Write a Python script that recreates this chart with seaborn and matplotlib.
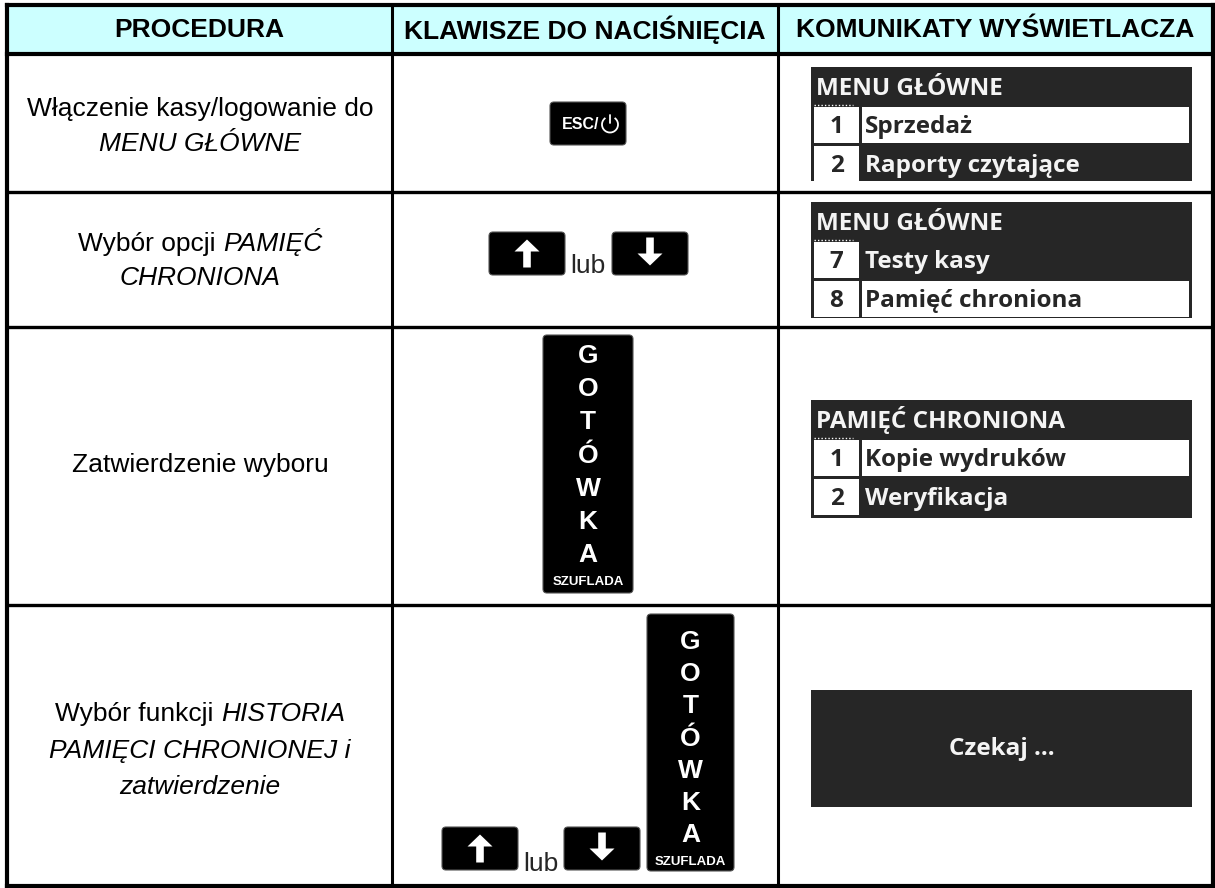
import matplotlib
matplotlib.use("Agg")
import matplotlib.pyplot as plt
import seaborn as sns
from matplotlib.patches import Rectangle, FancyBboxPatch, Polygon, Arc

sns.set_theme(style="white")
plt.rcParams['font.family'] = ['Liberation Sans', 'DejaVu Sans']

# treść tabeli
headers = ["PROCEDURA", "KLAWISZE DO NACIŚNIĘCIA", "KOMUNIKATY WYŚWIETLACZA"]

# (tekst, kursywa)
procedures = [
    [[("Włączenie kasy/logowanie do", False)], [("MENU GŁÓWNE", True)]],
    [[("Wybór opcji", False), ("PAMIĘĆ", True)], [("CHRONIONA", True)]],
    [[("Zatwierdzenie wyboru", False)]],
    [[("Wybór funkcji", False), ("HISTORIA", True)],
     [("PAMIĘCI CHRONIONEJ i", True)],
     [("zatwierdzenie", True)]],
]

keys = [["ESC"], ["UP", "lub", "DOWN"], ["GOTOWKA"], ["UP", "lub", "DOWN", "GOTOWKA"]]
cash_letters = ["G", "O", "T", "Ó", "W", "K", "A"]
cash_label = "SZUFLADA"
or_word = "lub"

display_titles = ["MENU GŁÓWNE", "MENU GŁÓWNE", "PAMIĘĆ CHRONIONA", None]
display_numbers = [["1", "2"], ["7", "8"], ["1", "2"], []]
display_items = [["Sprzedaż", "Raporty czytające"],
                 ["Testy kasy", "Pamięć chroniona"],
                 ["Kopie wydruków", "Weryfikacja"],
                 []]
display_selected = [0, 1, 0, None]
display_message = [None, None, None, "Czekaj ..."]

# układ (piksele)
col_x = [7, 392, 778, 1213]
row_y = [5, 54, 192, 327, 605, 886]
HEAD_BG = "#ccffff"
LCD = "#262626"
LCD_TXT = "#f4f4f4"
TXT_FONT = ['Liberation Sans', 'DejaVu Sans']
NARROW = ['Liberation Sans Narrow', 'Liberation Sans', 'DejaVu Sans']
LCD_FONT = ['Open Sans', 'DejaVu Sans']
BODY = 19
LCD_SIZE = 17.5

fig = plt.figure(figsize=(12.15, 8.88), dpi=100)
ax = fig.add_axes([0, 0, 1, 1])
ax.set_xlim(0, 1215)
ax.set_ylim(888, 0)
ax.axis("off")
renderer = fig.canvas.get_renderer()


def text_width(s, **kw):
    t = ax.text(0, 0, s, **kw)
    w = t.get_window_extent(renderer).width
    t.remove()
    return w


def mixed_line(cx, base, segments, size):
    space = text_width("x x", fontsize=size, family=TXT_FONT) - text_width("xx", fontsize=size, family=TXT_FONT)
    widths = [text_width(s, fontsize=size, family=TXT_FONT, fontstyle="italic" if it else "normal")
              for s, it in segments]
    total = sum(widths) + space * (len(segments) - 1)
    x = cx - total / 2
    for (s, it), w in zip(segments, widths):
        ax.text(x, base, s, fontsize=size, family=TXT_FONT, color="black",
                fontstyle="italic" if it else "normal", ha="left", va="baseline")
        x += w + space


def key_box(x0, y0, x1, y1):
    ax.add_patch(FancyBboxPatch((x0, y0), x1 - x0, y1 - y0,
                                boxstyle="round,pad=0,rounding_size=4",
                                facecolor="black", edgecolor="#555555", lw=0.8, zorder=3))


def arrow_key(x0, y0, up=True):
    w, h = 76, 43
    key_box(x0, y0, x0 + w, y0 + h)
    cx, cy = x0 + w / 2, y0 + h / 2
    hh, hw, sw, head = 14, 12.5, 3.8, 12
    if up:
        pts = [(cx, cy - hh), (cx + hw, cy - hh + head), (cx + sw, cy - hh + head),
               (cx + sw, cy + hh), (cx - sw, cy + hh), (cx - sw, cy - hh + head),
               (cx - hw, cy - hh + head)]
    else:
        cy -= 2
        pts = [(cx, cy + hh), (cx + hw, cy + hh - head), (cx + sw, cy + hh - head),
               (cx + sw, cy - hh), (cx - sw, cy - hh), (cx - sw, cy + hh - head),
               (cx - hw, cy + hh - head)]
    ax.add_patch(Polygon(pts, closed=True, facecolor="white", edgecolor="none", zorder=4))


def cash_key(x0, y0, x1, y1, first, step, label_y):
    key_box(x0, y0, x1, y1)
    cx = (x0 + x1) / 2
    for i, ch in enumerate(cash_letters):
        ax.text(cx, first + i * step, ch, fontsize=19, fontweight="bold", family=TXT_FONT,
                color="white", ha="center", va="center", zorder=5)
    ax.text(cx, label_y, cash_label, fontsize=9.5, fontweight="bold", family=NARROW,
            color="white", ha="center", va="center", zorder=5)


def esc_key(x0, y0):
    x1, y1 = x0 + 76, y0 + 43
    key_box(x0, y0, x1, y1)
    cy = (y0 + y1) / 2
    ax.text(x0 + 12, cy + 1, "ESC/", fontsize=11.5, fontweight="bold", family=NARROW,
            color="white", ha="left", va="center", zorder=5)
    px, py = x0 + 60, cy + 1
    ax.add_patch(Arc((px, py), 16, 16, theta1=305, theta2=235, color="white", lw=1.3, zorder=5))
    ax.plot([px, px], [py - 1, py - 9], color="white", lw=1.3, zorder=5)


# nagłówek
ax.add_patch(Rectangle((col_x[0], row_y[0]), col_x[3] - col_x[0], row_y[1] - row_y[0],
                       facecolor=HEAD_BG, edgecolor="none", zorder=0))
for i, h in enumerate(headers):
    ax.text((col_x[i] + col_x[i + 1]) / 2, 30, h, fontsize=BODY, fontweight="bold",
            family=TXT_FONT, ha="center", va="center", color="black")

# kolumna procedur
proc_bases = [[116, 151], [251, 285], [472], [721, 758, 794]]
for lines, bases in zip(procedures, proc_bases):
    for segs, b in zip(lines, bases):
        mixed_line(200, b, segs, BODY)

# klawisze
esc_key(550, 102)
arrow_key(489, 232, up=True)
ax.text(588, 273, or_word, fontsize=BODY, family=TXT_FONT, ha="center", va="baseline")
arrow_key(612, 232, up=False)
cash_key(543, 335, 633, 593, 356, 33.2, 582)
arrow_key(442, 827, up=True)
ax.text(541, 871, or_word, fontsize=BODY, family=TXT_FONT, ha="center", va="baseline")
arrow_key(564, 827, up=False)
cash_key(647, 614, 734, 871, 642, 32.2, 862)

# wyświetlacz
box_y = [(67, 181), (202, 318), (400, 518), (690, 807)]
bx0, bx1 = 811, 1192
for k, (y0, y1) in enumerate(box_y):
    ax.add_patch(Rectangle((bx0, y0), bx1 - bx0, y1 - y0, facecolor=LCD, edgecolor="none", zorder=1))
    if display_message[k]:
        ax.text((bx0 + bx1) / 2, (y0 + y1) / 2, display_message[k], fontsize=LCD_SIZE,
                fontweight="bold", family=LCD_FONT, color=LCD_TXT, ha="center", va="center", zorder=3)
        continue
    ax.text(bx0 + 5, y0 + 28, display_titles[k], fontsize=LCD_SIZE, fontweight="bold",
            family=LCD_FONT, color=LCD_TXT, ha="left", va="baseline", zorder=3)
    ax.plot([814, 853], [y0 + 38, y0 + 38], color="white", lw=1, ls=(0, (1, 1.5)), zorder=3)
    for j, (num, item) in enumerate(zip(display_numbers[k], display_items[k])):
        ry0 = y0 + 40 + j * 39
        ry1 = min(ry0 + 36, y1)
        ax.add_patch(Rectangle((814, ry0), 45, ry1 - ry0, facecolor="white", edgecolor="none", zorder=2))
        sel = display_selected[k] == j
        if sel:
            ax.add_patch(Rectangle((862, ry0), 327, ry1 - ry0, facecolor="white", edgecolor="none", zorder=2))
        ax.text(836.5, ry0 + 26, num, fontsize=LCD_SIZE, fontweight="bold", family=LCD_FONT,
                color=LCD, ha="center", va="baseline", zorder=3)
        ax.text(865, ry0 + 26, item, fontsize=LCD_SIZE, fontweight="bold", family=LCD_FONT,
                color=LCD if sel else LCD_TXT, ha="left", va="baseline", zorder=3)

# linie tabeli
for i, y in enumerate(row_y):
    lw = 3.0 if i in (0, 1, len(row_y) - 1) else 2.4
    ax.plot([col_x[0], col_x[-1]], [y, y], color="black", lw=lw, solid_capstyle="projecting", zorder=6)
for i, x in enumerate(col_x):
    lw = 3.0 if i in (0, len(col_x) - 1) else 2.2
    ax.plot([x, x], [row_y[0], row_y[-1]], color="black", lw=lw, solid_capstyle="projecting", zorder=6)

fig.savefig("out.png", dpi=100)
